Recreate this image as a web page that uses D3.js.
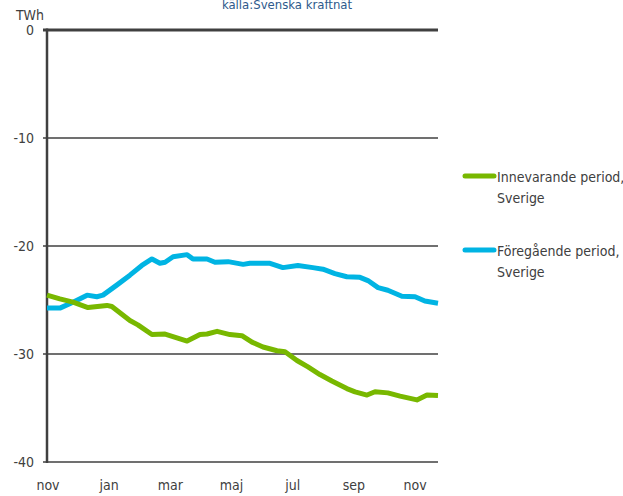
<!DOCTYPE html>
<html>
<head>
<meta charset="utf-8">
<script src="https://cdn.jsdelivr.net/npm/d3@7"></script>
<style>
  body { margin: 0; background: #fff; }
  text { font-family: "DejaVu Sans Condensed", "Liberation Sans", sans-serif; font-stretch: condensed; }
</style>
</head>
<body>
<svg id="chart" width="623" height="496"></svg>
<script>
// months since start of november, value in TWh
const monthLabels = ['nov', 'jan', 'mar', 'maj', 'jul', 'sep', 'nov'];
const yTicks = [0, -10, -20, -30, -40];

const currentT = [0, 0.42, 0.85, 1.34, 1.96, 2.12, 2.71, 2.97, 3.43, 3.86, 4.58, 5.0, 5.23, 5.56, 5.98, 6.37, 6.70, 7.06, 7.52, 7.78, 8.17, 8.53, 8.92, 9.31, 9.80, 10.07, 10.46, 10.72, 11.14, 11.54, 12.09, 12.42, 12.78];
const currentV = [-24.55, -24.9, -25.2, -25.7, -25.5, -25.6, -26.9, -27.3, -28.2, -28.15, -28.8, -28.2, -28.15, -27.9, -28.2, -28.3, -28.9, -29.35, -29.7, -29.8, -30.6, -31.2, -31.9, -32.5, -33.2, -33.5, -33.8, -33.5, -33.6, -33.9, -34.25, -33.8, -33.85];

const previousT = [0, 0.42, 0.85, 1.31, 1.63, 1.83, 2.29, 2.71, 3.10, 3.43, 3.69, 3.86, 4.12, 4.58, 4.77, 5.23, 5.49, 5.92, 6.41, 6.63, 7.29, 7.71, 8.20, 8.69, 9.02, 9.41, 9.80, 10.23, 10.49, 10.82, 11.14, 11.60, 12.03, 12.35, 12.78];
const previousV = [-25.75, -25.75, -25.2, -24.55, -24.7, -24.55, -23.6, -22.7, -21.8, -21.2, -21.6, -21.5, -21.0, -20.8, -21.2, -21.2, -21.5, -21.45, -21.7, -21.6, -21.6, -22.0, -21.8, -22.0, -22.15, -22.55, -22.85, -22.9, -23.2, -23.85, -24.1, -24.65, -24.7, -25.1, -25.3];

const seriesNames = [['Innevarande period,', 'Sverige'], ['Föregående period,', 'Sverige']];
const colors = ['#78b800', '#00b4e3'];

const svg = d3.select('#chart');
const axisColor = '#404040';

const x = d3.scaleLinear().domain([0, 12.78]).range([47, 438]);
const y = d3.scaleLinear().domain([-40, 0]).range([462, 30]);

// title (cut at top)
svg.append('text')
  .attr('x', 287).attr('y', 9)
  .attr('text-anchor', 'middle')
  .attr('font-size', 13)
  .attr('fill', '#2e5a8c')
  .text('källa:Svenska kraftnät');

svg.append('text')
  .attr('x', 30).attr('y', 20)
  .attr('text-anchor', 'middle')
  .attr('font-size', 14)
  .attr('fill', '#404040')
  .text('TWh');

// gridlines
svg.append('g')
  .selectAll('line')
  .data(yTicks.filter(d => d !== 0))
  .join('line')
  .attr('x1', 43).attr('x2', 438)
  .attr('y1', d => y(d)).attr('y2', d => y(d))
  .attr('stroke', axisColor)
  .attr('stroke-width', 1.3);

// zero line, thick
svg.append('line')
  .attr('x1', 43).attr('x2', 438)
  .attr('y1', y(0)).attr('y2', y(0))
  .attr('stroke', axisColor)
  .attr('stroke-width', 3);

// left axis
svg.append('line')
  .attr('x1', x(0)).attr('x2', x(0))
  .attr('y1', y(0) - 1.5).attr('y2', y(-40) + 1)
  .attr('stroke', axisColor)
  .attr('stroke-width', 2.5);

// y labels
svg.append('g')
  .selectAll('text')
  .data(yTicks)
  .join('text')
  .attr('x', 34)
  .attr('y', d => y(d) + 5)
  .attr('text-anchor', 'end')
  .attr('font-size', 14)
  .attr('fill', '#404040')
  .text(d => d);

// x labels
svg.append('g')
  .selectAll('text')
  .data(monthLabels)
  .join('text')
  .attr('x', (d, i) => x(i * 2) + 1)
  .attr('y', 490)
  .attr('text-anchor', 'middle')
  .attr('font-size', 14)
  .attr('fill', '#404040')
  .text(d => d);

const line = d3.line()
  .x(d => x(d[0]))
  .y(d => y(d[1]));

const series = [
  d3.zip(currentT, currentV),
  d3.zip(previousT, previousV)
];

// previous drawn first, current on top
[1, 0].forEach(i => {
  svg.append('path')
    .datum(series[i])
    .attr('d', line)
    .attr('fill', 'none')
    .attr('stroke', colors[i])
    .attr('stroke-width', 5)
    .attr('stroke-linejoin', 'round');
});

// legend
const legendY = [176, 250];
seriesNames.forEach((names, i) => {
  const g = svg.append('g');
  g.append('line')
    .attr('x1', 465).attr('x2', 494)
    .attr('y1', legendY[i]).attr('y2', legendY[i])
    .attr('stroke', colors[i])
    .attr('stroke-width', 5)
    .attr('stroke-linecap', 'round');
  names.forEach((t, j) => {
    g.append('text')
      .attr('x', 497)
      .attr('y', legendY[i] + 6 + j * 21)
      .attr('font-size', 14)
      .attr('fill', '#404040')
      .text(t);
  });
});
</script>
</body>
</html>
